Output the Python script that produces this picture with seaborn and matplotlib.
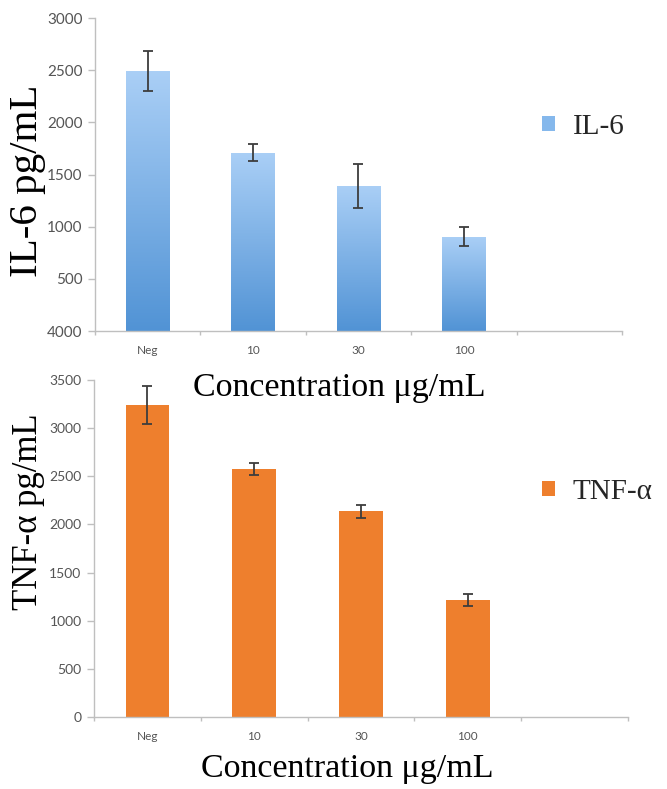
import numpy as np
import pandas as pd
import matplotlib
matplotlib.use("Agg")
import matplotlib.pyplot as plt
import seaborn as sns
from matplotlib.colors import LinearSegmentedColormap
from matplotlib.patches import Patch
from matplotlib.ticker import FixedLocator

# Cytokine release by concentration (mean and error)
concentrations = ["Neg", "10", "30", "100"]
il6_mean = [2490, 1710, 1390, 905]
il6_err = [190, 80, 212, 90]
tnf_mean = [3240, 2575, 2135, 1215]
tnf_err = [195, 65, 70, 65]

il6_yticks = [0, 500, 1000, 1500, 2000, 2500, 3000]
il6_yticklabels = ["4000", "500", "1000", "1500", "2000", "2500", "3000"]
tnf_yticks = [0, 500, 1000, 1500, 2000, 2500, 3000, 3500]
tnf_yticklabels = ["0", "500", "1000", "1500", "2000", "2500", "3000", "3500"]

sns.set_theme(style="ticks")
plt.rcParams["font.family"] = ["Lato", "DejaVu Sans"]

SERIF = ["Liberation Serif", "DejaVu Serif"]
AXIS_GREY = "#BFBFBF"
TICK_TEXT = "#555555"
ERR_COLOR = "#3d3d3d"

blue_cmap = LinearSegmentedColormap.from_list("il6", ["#5193d5", "#aacff6"])
orange = "#ee7f2d"

df = pd.DataFrame({
    "conc": concentrations,
    "il6": il6_mean,
    "tnf": tnf_mean,
})

fig = plt.figure(figsize=(6.67, 7.89), dpi=100)
ax1 = fig.add_axes([0.14243, 0.58048, 0.79010, 0.39670])
ax2 = fig.add_axes([0.14093, 0.09125, 0.80060, 0.42712])
for ax in (ax1, ax2):
    ax.patch.set_visible(False)


def draw_panel(ax, col, errs, color, ylim, yticks, yticklabels, ytick_size):
    sns.barplot(data=df, x="conc", y=col, order=concentrations, color=color,
                width=0.41, saturation=1, errorbar=None, ax=ax, zorder=2)
    bars = list(ax.patches)
    for b in bars:
        b.set_edgecolor("none")
    centers = [b.get_x() + b.get_width() / 2 for b in bars]
    ax.errorbar(centers, df[col], yerr=errs, fmt="none", ecolor=ERR_COLOR,
                elinewidth=1.3, capsize=3.4, capthick=1.3, zorder=4)
    ax.set_xlim(-0.5, 4.5)
    ax.set_ylim(*ylim)
    ax.set_yticks(yticks)
    ax.set_yticklabels(yticklabels)
    ax.set_xticks(range(len(concentrations)))
    ax.set_xticklabels(concentrations)
    ax.xaxis.set_minor_locator(FixedLocator(np.arange(-0.5, 4.6, 1.0)))
    ax.tick_params(axis="x", which="major", length=0, pad=10,
                   labelsize=8.5, labelcolor=TICK_TEXT)
    ax.tick_params(axis="x", which="minor", length=3, width=1,
                   color=AXIS_GREY, direction="out", bottom=True)
    ax.tick_params(axis="y", which="major", length=5, width=1, pad=4,
                   color=AXIS_GREY, labelsize=ytick_size, labelcolor=TICK_TEXT)
    for s in ["top", "right"]:
        ax.spines[s].set_visible(False)
    for s in ["left", "bottom"]:
        ax.spines[s].set_color(AXIS_GREY)
        ax.spines[s].set_linewidth(1.0)
    return bars


bars1 = draw_panel(ax1, "il6", il6_err, "#80b5ea", (0, 3000),
                   il6_yticks, il6_yticklabels, 11)
bars2 = draw_panel(ax2, "tnf", tnf_err, orange, (0, 3500),
                   tnf_yticks, tnf_yticklabels, 10)

# vertical gradient inside each IL-6 bar, light at the top
grad = np.linspace(0, 1, 256).reshape(-1, 1)
for b in bars1:
    x0, y0, w, h = b.get_x(), b.get_y(), b.get_width(), b.get_height()
    im = ax1.imshow(grad, extent=[x0, x0 + w, y0, y0 + h], origin="lower",
                    cmap=blue_cmap, aspect="auto", zorder=2,
                    interpolation="bilinear")
    im.set_clip_path(b)
    b.set_facecolor("none")
ax1.set_xlim(-0.5, 4.5)
ax1.set_ylim(0, 3000)

# axis titles
for ax, label, size, ycen in [(ax1, "IL-6 pg/mL", 29.5, 0.7706),
                              (ax2, "TNF-α pg/mL", 25, 0.3511)]:
    ax.set_ylabel(label, family=SERIF, fontsize=size, color="black")
    ax.yaxis.set_label_coords(0.0555, ycen, transform=fig.transFigure)
    ax.yaxis.label.set_va("baseline")

for ax, xc, yb in [(ax1, 0.508, 0.4981), (ax2, 0.520, 0.0152)]:
    ax.set_xlabel("Concentration μg/mL", family=SERIF, fontsize=24.5,
                  color="black")
    ax.xaxis.set_label_coords(xc, yb, transform=fig.transFigure)
    ax.xaxis.label.set_va("baseline")
    ax.xaxis.label.set_zorder(5)

# legends on the right
for ax, color, label, ycen in [(ax1, "#85b8ec", "IL-6", 0.839),
                               (ax2, orange, "TNF-α", 0.3764)]:
    ax.legend(handles=[Patch(facecolor=color, edgecolor="none")],
              labels=[label], loc="center left",
              bbox_to_anchor=(0.8126, ycen), bbox_transform=fig.transFigure,
              frameon=False, handlelength=0.45, handleheight=0.38,
              handletextpad=0.6, borderpad=0, borderaxespad=0,
              prop={"family": SERIF, "size": 21})

fig.savefig("out.png", dpi=100)
